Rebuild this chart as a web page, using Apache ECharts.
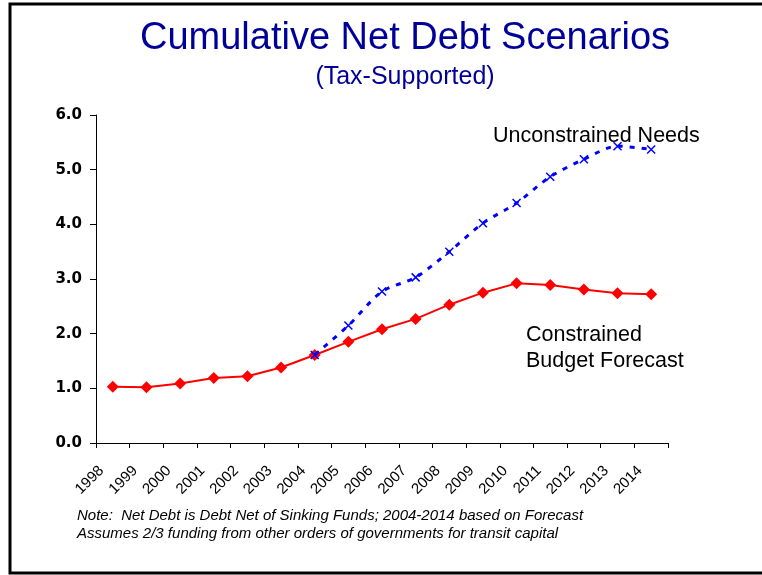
<!DOCTYPE html>
<html>
<head>
<meta charset="utf-8">
<script src="https://cdn.jsdelivr.net/npm/echarts@6/dist/echarts.min.js"></script>
<style>
html,body{margin:0;padding:0;background:#fff;}
#chart{width:762px;height:575px;}
</style>
</head>
<body>
<div id="chart"></div>
<script>
const years = ['1998','1999','2000','2001','2002','2003','2004','2005','2006','2007','2008','2009','2010','2011','2012','2013','2014'];
const constrained = [1.03,1.02,1.09,1.19,1.22,1.38,1.61,1.85,2.08,2.27,2.53,2.75,2.92,2.89,2.81,2.74,2.72];
const unconstrained = [null,null,null,null,null,null,1.61,2.15,2.77,3.03,3.50,4.02,4.39,4.87,5.19,5.43,5.37];
const yTicks = [0,1,2,3,4,5,6];

const chart = echarts.init(document.getElementById('chart'));
const font = '"Liberation Sans", Arial, sans-serif';
chart.setOption({
  animation:false,
  backgroundColor:'#fff',
  grid:{left:96,right:94,top:115,bottom:132,containLabel:false},
  xAxis:{
    type:'category',
    data:years,
    boundaryGap:true,
    axisLine:{lineStyle:{color:'#000',width:1}},
    axisTick:{show:true,length:5,lineStyle:{color:'#000'}},
    axisLabel:{rotate:45,interval:0,fontFamily:font,fontSize:15,color:'#000',margin:14,padding:[0,16,0,0]}
  },
  yAxis:{
    type:'value',
    min:yTicks[0],max:yTicks[yTicks.length-1],interval:1,
    splitLine:{show:false},
    axisLine:{show:true,lineStyle:{color:'#000',width:1}},
    axisTick:{show:true,length:6,lineStyle:{color:'#000'}},
    axisLabel:{fontFamily:'"DejaVu Sans", sans-serif',fontSize:15,fontWeight:'bold',color:'#000',margin:14,
      formatter:v=>v.toFixed(1)}
  },
  series:[
    {
      name:'Constrained Budget Forecast',
      type:'line',
      data:constrained,
      symbol:'diamond',
      symbolSize:12,
      lineStyle:{color:'#ff0000',width:2},
      itemStyle:{color:'#ff0000'},
      z:2
    },
    {
      name:'Unconstrained Needs',
      type:'line',
      data:unconstrained,
      smooth:0.3,
      symbol:'path://M0,0L10,10M10,0L0,10',
      symbolSize:8,
      lineStyle:{color:'#0000ff',width:3,type:[5,7]},
      itemStyle:{color:'none',borderColor:'#0000ff',borderWidth:1.5},
      z:3
    }
  ],
  graphic:[
    {type:'rect',shape:{x:10,y:4,width:800,height:569},style:{fill:'none',stroke:'#000',lineWidth:3},silent:true},
    {type:'text',x:405,y:20,style:{text:'Cumulative Net Debt Scenarios',font:'38px "Liberation Sans", Arial, sans-serif',fill:'#000099',textAlign:'center',textVerticalAlign:'top'}},
    {type:'text',x:405,y:65,style:{text:'(Tax-Supported)',font:'25px "Liberation Sans", Arial, sans-serif',fill:'#000099',textAlign:'center',textVerticalAlign:'top'}},
    {type:'text',left:493,top:125,style:{text:'Unconstrained Needs',font:'21.5px "Liberation Sans", Arial, sans-serif',fill:'#000'}},
    {type:'text',left:526,top:322,style:{text:'Constrained\nBudget Forecast',font:'21.5px "Liberation Sans", Arial, sans-serif',fill:'#000',lineHeight:26}},
    {type:'text',left:77,top:507,style:{text:'Note:  Net Debt is Debt Net of Sinking Funds; 2004-2014 based on Forecast\nAssumes 2/3 funding from other orders of governments for transit capital',font:'italic 15px "Liberation Sans", Arial, sans-serif',fill:'#000',lineHeight:18}}
  ]
});
</script>
</body>
</html>
